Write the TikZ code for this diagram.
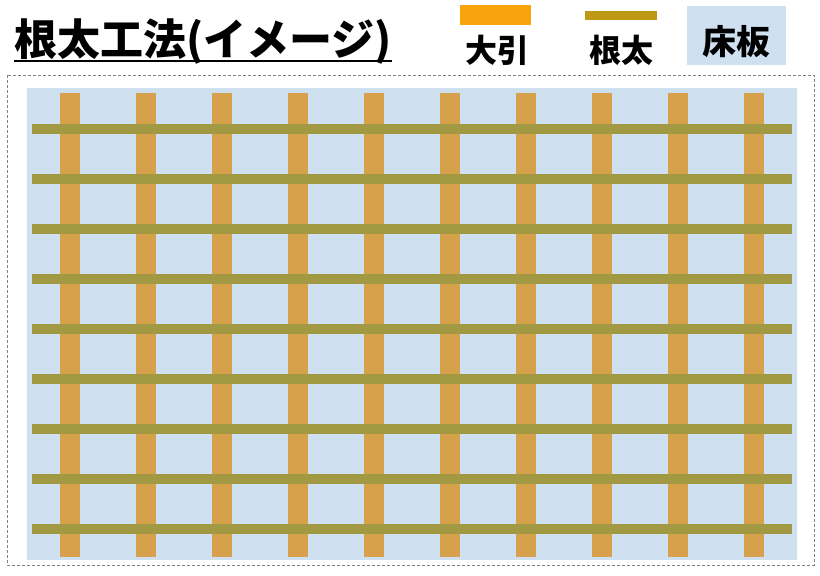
\documentclass[tikz,border=0pt]{standalone}
\usepackage{fontspec}
\newfontfamily\jp{Noto Sans CJK JP}
\definecolor{ohbiki}{HTML}{D6A14A}
\definecolor{nedaline}{HTML}{A19A42}
\definecolor{yukaita}{HTML}{CFE0F0}
\definecolor{legohbiki}{HTML}{F8A20C}
\definecolor{legneda}{HTML}{BE9A14}
\begin{document}
\begin{tikzpicture}[x=1pt,y=-1pt]
\tikzstyle{label}=[inner sep=0pt,font=\jp\bfseries\fontsize{32}{32}\selectfont]
\tikzstyle{post}=[fill=ohbiki]
\tikzstyle{joist}=[fill=nedaline]
\useasboundingbox (0,0) rectangle (820,576);

% title
\path (14,55) node[anchor=base west,inner sep=0pt,font=\jp\bfseries\fontsize{43}{43}\selectfont](title){根太工法(イメージ)};
\draw[line width=2pt] ([yshift=-6pt]title.base west) -- ([yshift=-6pt]title.base east);

% legend
\path (460,5) node[anchor=north west,inner sep=0pt,minimum width=71pt,minimum height=20pt,fill=legohbiki](kOhbiki){};
\path (497,50) node[label](tOhbiki){大引};
\path (585,11) node[anchor=north west,inner sep=0pt,minimum width=72pt,minimum height=9pt,fill=legneda](kNeda){};
\path (621,50) node[label](tNeda){根太};
\path (687,6) node[anchor=north west,inner sep=0pt,minimum width=99pt,minimum height=59pt,fill=yukaita](kYuka){};
\path ([yshift=-6pt]kYuka.center) node[label,font=\jp\bfseries\fontsize{34}{34}\selectfont](tYuka){床板};

% frame and floor board
\draw[gray,dash pattern=on 3pt off 2pt] (7,75) rectangle (814,565);
\fill[yukaita] (27,88) rectangle (797,560);

% ohbiki
\path[post] (60,93) rectangle (80,557);
\path[post] (136,93) rectangle (156,557);
\path[post] (212,93) rectangle (232,557);
\path[post] (288,93) rectangle (308,557);
\path[post] (364,93) rectangle (384,557);
\path[post] (440,93) rectangle (460,557);
\path[post] (516,93) rectangle (536,557);
\path[post] (592,93) rectangle (612,557);
\path[post] (668,93) rectangle (688,557);
\path[post] (744,93) rectangle (764,557);

% neda
\path[joist] (32,124) rectangle (792,134);
\path[joist] (32,174) rectangle (792,184);
\path[joist] (32,224) rectangle (792,234);
\path[joist] (32,274) rectangle (792,284);
\path[joist] (32,324) rectangle (792,334);
\path[joist] (32,374) rectangle (792,384);
\path[joist] (32,424) rectangle (792,434);
\path[joist] (32,474) rectangle (792,484);
\path[joist] (32,524) rectangle (792,534);
\end{tikzpicture}
\end{document}
